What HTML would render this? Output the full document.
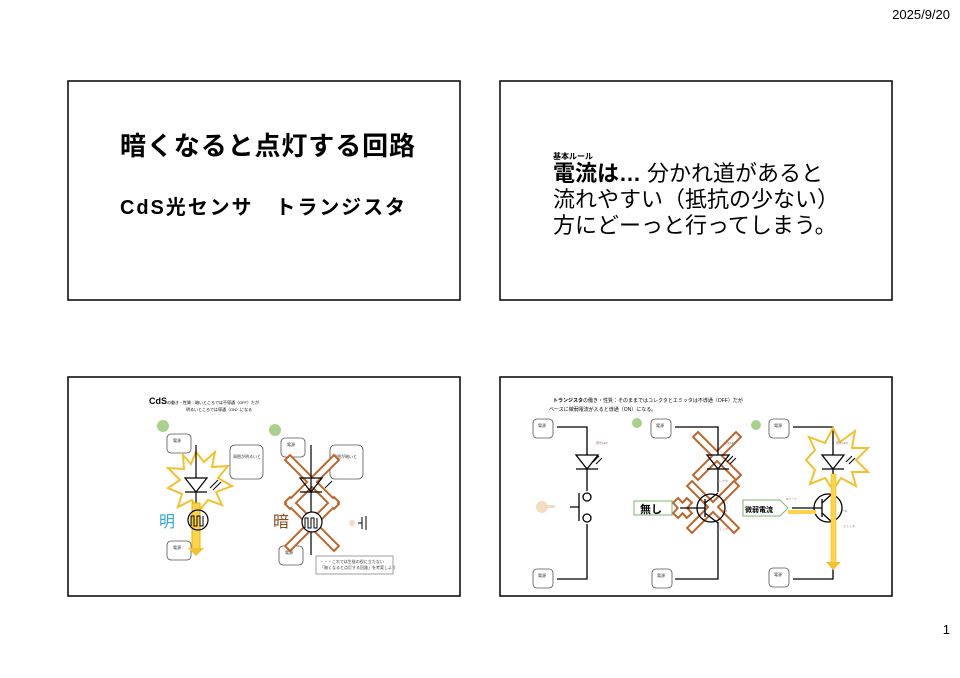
<!DOCTYPE html>
<html><head><meta charset="utf-8"><style>
html,body{margin:0;padding:0;background:#fff;width:960px;height:678px;overflow:hidden}
svg{display:block}
text{font-family:"Liberation Sans","Noto Sans CJK JP",sans-serif}
</style></head><body>
<svg width="960" height="678" viewBox="0 0 960 678" xmlns="http://www.w3.org/2000/svg">
<text x="950" y="19" font-size="13" text-anchor="end">2025/9/20</text>
<text x="950" y="634" font-size="13" text-anchor="end">1</text>
<g fill="none" stroke="#000" stroke-width="1.5">
<rect x="68" y="81" width="392" height="219"/>
<rect x="500" y="81" width="392" height="219"/>
<rect x="68" y="377" width="392" height="219"/>
<rect x="500" y="377" width="392" height="219"/>
</g>
<!-- slide 1 -->
<text x="120" y="155" font-size="26" font-weight="bold" textLength="295">暗くなると点灯する回路</text>
<text x="120" y="214" font-size="20" font-weight="bold" textLength="285">CdS光センサ　トランジスタ</text>
<!-- slide 2 -->
<text x="553" y="159" font-size="8" font-weight="bold">基本ルール</text>
<text x="553" y="181" font-size="22" textLength="270"><tspan font-weight="bold">電流は…</tspan> 分かれ道があると</text>
<text x="553" y="207" font-size="22">流れやすい（抵抗の少ない）</text>
<text x="553" y="233" font-size="22">方にどーっと行ってしまう。</text>
<!-- slide 3 -->
<text x="149" y="404" font-size="9" font-weight="bold" font-family="Liberation Serif">CdS<tspan font-size="4" font-weight="normal">の働き・性質：暗いところでは不導通（OFF）だが</tspan></text>
<text x="186" y="411" font-size="4">明るいところでは導通（ON）になる</text>
<circle cx="163" cy="426" r="6" fill="#a9d18e"/><circle cx="275" cy="430" r="6" fill="#a9d18e"/>
<g fill="#fff" stroke="#555" stroke-width="0.8">
<rect x="167" y="434" width="24" height="19" rx="4"/><rect x="281" y="438" width="24" height="19" rx="4"/>
<rect x="230" y="445" width="33" height="34" rx="5"/><rect x="330" y="445" width="33" height="34" rx="5"/>
<rect x="167" y="541" width="24" height="19" rx="4"/><rect x="279" y="546" width="24" height="19" rx="4"/>
<rect x="316" y="556" width="77" height="18" fill="#fff" stroke="#888"/>
</g>
<g font-size="4" fill="#333"><text x="173" y="442">電源</text><text x="287" y="446">電源</text><text x="173" y="549">電源</text><text x="285" y="554">電源</text>
<text x="233" y="458">周囲が明るいと</text><text x="333" y="458">周囲が暗いと</text><text x="320" y="563">・・・これでは生徒の役に立たない</text><text x="320" y="569">「暗くなると点灯する回路」を考案しよう</text></g>
<polygon points="196,452 204,462 215,452 212,467 228,466 218,478 232,486 216,492 222,505 208,500 198,512 192,500 178,507 182,494 168,488 180,480 168,468 184,469 183,455 191,464" fill="#fff" stroke="#f2c12e" stroke-width="2"/>
<line x1="196" y1="445" x2="196" y2="548" stroke="#000" stroke-width="1.2"/>
<polygon points="185,478 207,478 196,492" fill="#fff" stroke="#000" stroke-width="1.2"/><line x1="185" y1="492" x2="207" y2="492" stroke="#000" stroke-width="1.2"/>
<line x1="210" y1="488" x2="218" y2="480" stroke="#000"/><line x1="213" y1="490" x2="221" y2="482" stroke="#000"/>
<rect x="192" y="503" width="8" height="48" fill="#ffd44a" stroke="#e8b400"/><polygon points="188,548 204,548 196,556" fill="#f2c12e"/>
<circle cx="198" cy="520" r="10" fill="none" stroke="#000" stroke-width="1.2"/>
<path d="M191,526v-10h3v10h3v-10h3v10h3v-10" fill="none" stroke="#000"/>
<text x="159" y="527" font-size="16" fill="#2ea7d8" font-family="Liberation Serif,Noto Serif CJK SC,serif">明</text>
<g fill="none" stroke-linecap="square">
<path d="M290,460l44,44M334,460l-44,44M290,502l44,44M334,502l-44,44" stroke="#c0652a" stroke-width="9"/>
<path d="M290,460l44,44M334,460l-44,44M290,502l44,44M334,502l-44,44" stroke="#fff" stroke-width="5"/>
</g>
<line x1="311" y1="445" x2="311" y2="555" stroke="#000" stroke-width="1.2"/>
<polygon points="300,478 322,478 311,492" fill="none" stroke="#000" stroke-width="1.2"/><line x1="300" y1="492" x2="322" y2="492" stroke="#000" stroke-width="1.2"/>
<line x1="325" y1="488" x2="332" y2="481" stroke="#000"/>
<circle cx="312" cy="522" r="10" fill="#fff" stroke="#000" stroke-width="1.2"/>
<path d="M305,528v-10h3v10h3v-10h3v10h3v-10" fill="none" stroke="#000"/>
<text x="273" y="527" font-size="16" fill="#8b4a1e" font-family="Liberation Serif,Noto Serif CJK SC,serif">暗</text>
<circle cx="352" cy="523" r="3" fill="#f3dcc0"/><path d="M358,523h4M362,517v12M366,516v14" stroke="#000"/>
<!-- slide 4 -->
<text x="553" y="402" font-size="5"><tspan font-weight="bold">トランジスタ</tspan>の働き・性質：そのままではコレクタとエミッタは不導通（OFF）だが</text>
<text x="549" y="411" font-size="5">ベースに微弱電流が入ると導通（ON）になる。</text>
<circle cx="637" cy="423" r="5" fill="#a9d18e"/><circle cx="756" cy="425" r="5" fill="#a9d18e"/>
<g fill="#fff" stroke="#555" stroke-width="0.8">
<rect x="533" y="419" width="20" height="19" rx="4"/><rect x="651" y="419" width="20" height="19" rx="4"/><rect x="769" y="419" width="20" height="19" rx="4"/>
<rect x="533" y="569" width="20" height="19" rx="4"/><rect x="652" y="569" width="20" height="19" rx="4"/><rect x="769" y="568" width="20" height="19" rx="4"/>
</g>
<g font-size="4" fill="#333"><text x="538" y="427">電源</text><text x="656" y="427">電源</text><text x="774" y="427">電源</text><text x="538" y="577">電源</text><text x="657" y="577">電源</text><text x="774" y="576">電源</text></g>
<g fill="none" stroke="#c0652a" stroke-linecap="square">
<path d="M698,437l38,38M736,437l-38,38M692,486l42,42M734,486l-42,42M678,503l9,10M687,503l-9,10" stroke-width="9"/>
<path d="M698,437l38,38M736,437l-38,38M692,486l42,42M734,486l-42,42M678,503l9,10M687,503l-9,10" stroke="#fff" stroke-width="5"/>
</g>
<g fill="none" stroke="#000" stroke-width="1.3">
<path d="M557,427h30v28M587,469v22M587,524v55h-30"/>
<polygon points="576,455 598,455 587,469"/><line x1="576" y1="469" x2="598" y2="469"/>
<circle cx="587" cy="497" r="4"/><circle cx="587" cy="518" r="4"/>
<path d="M579,493v28M570,507h9"/>
<path d="M675,427h43v28M718,469v23M718,522v57h-43"/>
<polygon points="707,455 729,455 718,469"/><line x1="707" y1="469" x2="729" y2="469"/>
<circle cx="711" cy="508" r="14"/><path d="M705,499v18M705,508h-25M705,503l13,-10M705,513l13,10"/>
<path d="M793,427h40v28M833,469v23M833,522v57h-40"/>
<polygon points="822,455 844,455 833,469"/><line x1="822" y1="469" x2="844" y2="469"/>
<circle cx="828" cy="508" r="14"/><path d="M822,499v18M822,508h-30M822,503l11,-10M822,513l11,10"/>
</g>
<path d="M593,462l6,-6M596,464l6,-6M727,462l6,-6M730,464l6,-6M846,462l6,-6M849,464l6,-6" stroke="#000"/>
<circle cx="542" cy="507" r="6" fill="#f3dcc0"/><rect x="545" y="505" width="10" height="3" fill="#f3dcc0"/>
<rect x="634" y="501" width="38" height="14" fill="#fff" stroke="#7cb56b"/><text x="640" y="513" font-size="11" font-weight="bold">無し</text>
<polygon points="743,500 780,500 788,508 780,516 743,516" fill="#fff" stroke="#7cb56b"/><text x="745" y="512" font-size="7" font-weight="bold">微弱電流</text>
<polygon points="833,428 840,442 855,431 852,448 868,448 856,460 868,472 852,472 856,486 841,478 833,490 825,478 810,484 815,470 806,460 815,450 809,437 825,443" fill="none" stroke="#f2c12e" stroke-width="2"/>
<rect x="788" y="510" width="28" height="4" fill="#ffd44a"/>
<rect x="831" y="474" width="5" height="90" fill="#ffd44a" stroke="#e8b400" stroke-width="0.5"/><polygon points="826,562 841,562 833,570" fill="#f2c12e"/>
<g font-size="3" fill="#a07070"><text x="596" y="444">発光LED</text><text x="724" y="444">発光LED</text><text x="836" y="444">発光LED</text><text x="716" y="482">コレクタ</text><text x="723" y="512">TR</text><text x="716" y="530">エミッタ</text><text x="786" y="500">Bベース</text><text x="843" y="512">TR</text><text x="843" y="527">エミッタ</text></g>
</svg>
</body></html>
